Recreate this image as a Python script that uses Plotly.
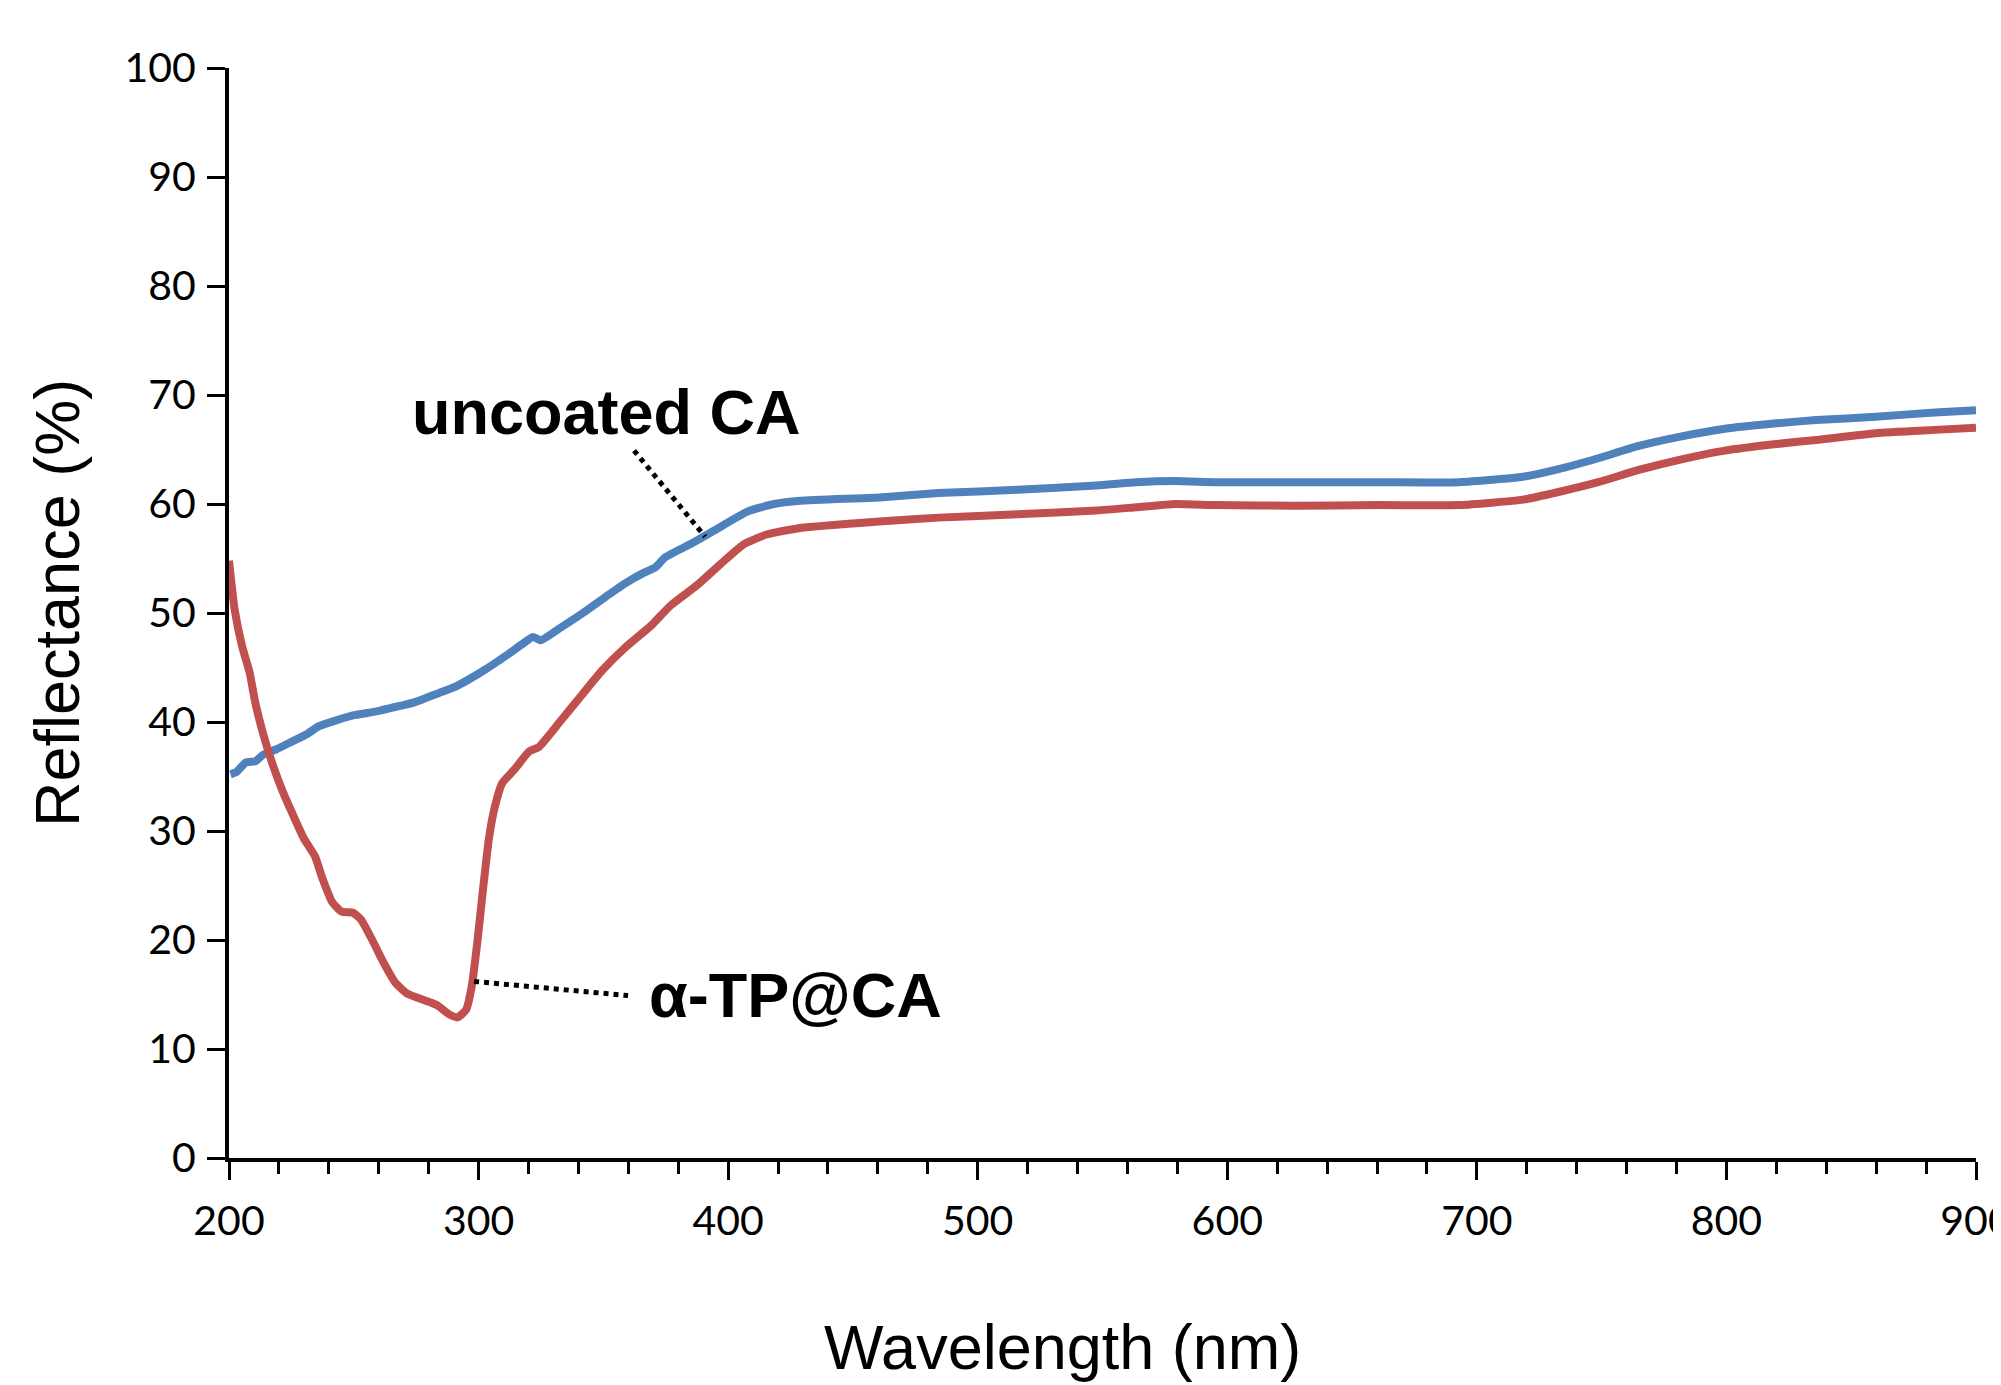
import plotly.graph_objects as go

# ---- data ----
wl_uncoated = [200.6, 202.9, 206.8, 210.6, 213.7, 219.0, 225.2, 231.3, 235.9, 243.6,
               249.7, 257.4, 265.1, 274.3, 283.5, 291.2, 301.9, 311.1, 317.2, 321.8,
               324.9, 332.5, 341.8, 351.0, 358.6, 366.3, 370.9, 374.7, 384.7, 393.9,
               407.7, 418.4, 428.9, 460.5, 484.3, 516.0, 547.6, 563.5, 579.3, 595.2,
               627.0, 661.0, 693.0, 718.5, 732.7, 748.6, 764.5, 782.0, 799.4, 820.0,
               835.9, 859.7, 883.5, 900.0]
r_uncoated = [35.2, 35.4, 36.3, 36.4, 37.0, 37.5, 38.2, 38.9, 39.6, 40.2,
              40.6, 40.9, 41.3, 41.8, 42.6, 43.3, 44.7, 46.1, 47.1, 47.8,
              47.5, 48.6, 50.0, 51.5, 52.7, 53.7, 54.2, 55.1, 56.3, 57.5,
              59.3, 60.0, 60.3, 60.6, 61.0, 61.3, 61.7, 62.0, 62.1, 62.0,
              62.0, 62.0, 62.0, 62.5, 63.2, 64.2, 65.3, 66.2, 66.9, 67.4,
              67.7, 68.0, 68.4, 68.6]

wl_coated = [200.0, 202.2, 205.2, 208.3, 210.6, 213.7, 217.5, 221.4, 225.2,
             229.8, 234.4, 237.5, 241.3, 245.1, 249.7, 252.8, 257.4, 262.0, 266.6,
             271.2, 280.4, 283.5, 288.1, 291.5, 295.0, 297.3, 299.6, 301.9, 304.2,
             306.5, 309.5, 314.2, 320.3, 324.1, 332.5, 341.8, 349.4, 358.6, 369.4,
             377.0, 387.8, 397.0, 406.2, 415.4, 428.9, 460.5, 484.3, 516.0, 547.6,
             563.5, 579.3, 595.2, 627.0, 661.0, 693.0, 718.5, 732.7, 748.6, 764.5,
             782.0, 799.4, 820.0, 837.0, 859.7, 883.5, 900.0]
r_coated = [54.8, 50.4, 47.0, 44.5, 41.7, 38.9, 36.1, 33.7, 31.7,
            29.4, 27.7, 25.6, 23.5, 22.6, 22.5, 21.9, 20.0, 17.9, 16.1,
            15.1, 14.3, 14.0, 13.2, 12.9, 13.6, 15.8, 20.0, 24.9, 29.4,
            32.2, 34.4, 35.6, 37.3, 37.7, 40.0, 42.6, 44.7, 46.8, 48.9,
            50.7, 52.6, 54.5, 56.3, 57.2, 57.8, 58.4, 58.75, 59.05, 59.4,
            59.7, 60.0, 59.9, 59.85, 59.9, 59.9, 60.4, 61.1, 62.0, 63.1,
            64.1, 64.9, 65.5, 65.9, 66.5, 66.8, 67.0]

x_ticks = [200, 300, 400, 500, 600, 700, 800, 900]
y_ticks = [0, 10, 20, 30, 40, 50, 60, 70, 80, 90, 100]

label_uncoated = "uncoated CA"
label_coated = "α-TP@CA"
# leader-line anchor points (wavelength, reflectance)
leader_uncoated = ([362.3, 390.8], [64.9, 57.0])
leader_coated = ([298.2, 359.9], [16.2, 14.9])

BLUE = "#4F81BD"
RED = "#C0504D"
TITLE_FONT = "Liberation Sans, Arial, sans-serif"

fig = go.Figure()
fig.add_trace(go.Scatter(x=wl_uncoated, y=r_uncoated, mode="lines",
                         line=dict(color=BLUE, width=8, shape="spline", smoothing=0.5),
                         showlegend=False))
fig.add_trace(go.Scatter(x=wl_coated, y=r_coated, mode="lines",
                         line=dict(color=RED, width=8, shape="spline", smoothing=0.5),
                         showlegend=False))
fig.add_trace(go.Scatter(x=leader_uncoated[0], y=leader_uncoated[1], mode="lines",
                         line=dict(color="black", width=5, dash="5px,5px"),
                         showlegend=False))
fig.add_trace(go.Scatter(x=leader_coated[0], y=leader_coated[1], mode="lines",
                         line=dict(color="black", width=5, dash="5px,5px"),
                         showlegend=False))

fig.add_annotation(x=351.4, y=68.4, xref="x", yref="y", text=f"<b>{label_uncoated}</b>",
                   showarrow=False, xanchor="center", yanchor="middle",
                   font=dict(family=TITLE_FONT, size=63, color="black"))
fig.add_annotation(x=426.9, y=15.0, xref="x", yref="y", text=f"<b>{label_coated}</b>",
                   showarrow=False, xanchor="center", yanchor="middle",
                   font=dict(family=TITLE_FONT, size=63, color="black"))

# page offset (body margin of the html page)
OFF = 8
W, H = 2001, 1385
# target plot area in page pixels: left 229, right 1976, top 68, bottom 1158
L, R, T, B = 229 - OFF, W - 1976 + OFF, 68 - OFF, H - 1158 + OFF
pw, ph = W - L - R, H - T - B


def to_paper(px, py):
    return (px - OFF - L) / pw, (H - B - (py - OFF)) / ph


xp, yp = to_paper(1062, 1347)
fig.add_annotation(x=xp, y=yp, xref="paper", yref="paper", text="Wavelength (nm)",
                   showarrow=False, xanchor="center", yanchor="middle",
                   font=dict(family=TITLE_FONT, size=63, color="black"))
xp, yp = to_paper(57, 603)
fig.add_annotation(x=xp, y=yp, xref="paper", yref="paper", text="Reflectance (%)",
                   showarrow=False, xanchor="center", yanchor="middle", textangle=-90,
                   font=dict(family=TITLE_FONT, size=63, color="black"))

fig.update_layout(
    width=W, height=H,
    margin=dict(l=L, r=R, t=T, b=B, autoexpand=False),
    paper_bgcolor="white", plot_bgcolor="white",
    xaxis=dict(range=[200, 900], tickvals=x_ticks, ticktext=[str(v) for v in x_ticks],
               showgrid=False, zeroline=False, showline=True, linecolor="black", linewidth=4,
               ticks="outside", ticklen=18, tickwidth=3, tickcolor="black",
               ticklabelstandoff=6, ticklabeloverflow="allow", automargin=False,
               minor=dict(dtick=20, ticks="outside", ticklen=12, tickwidth=3, tickcolor="black",
                          showgrid=False),
               tickfont=dict(family="Lato, Open Sans, sans-serif", size=41, color="black")),
    yaxis=dict(range=[0, 100], tickvals=y_ticks, ticktext=[str(v) for v in y_ticks],
               showgrid=False, zeroline=False, showline=True, linecolor="black", linewidth=4,
               ticks="outside", ticklen=18, tickwidth=3, tickcolor="black",
               ticklabelstandoff=3, automargin=False,
               tickfont=dict(family="Lato, Open Sans, sans-serif", size=41, color="black")),
)

fig.write_html("out.html")
